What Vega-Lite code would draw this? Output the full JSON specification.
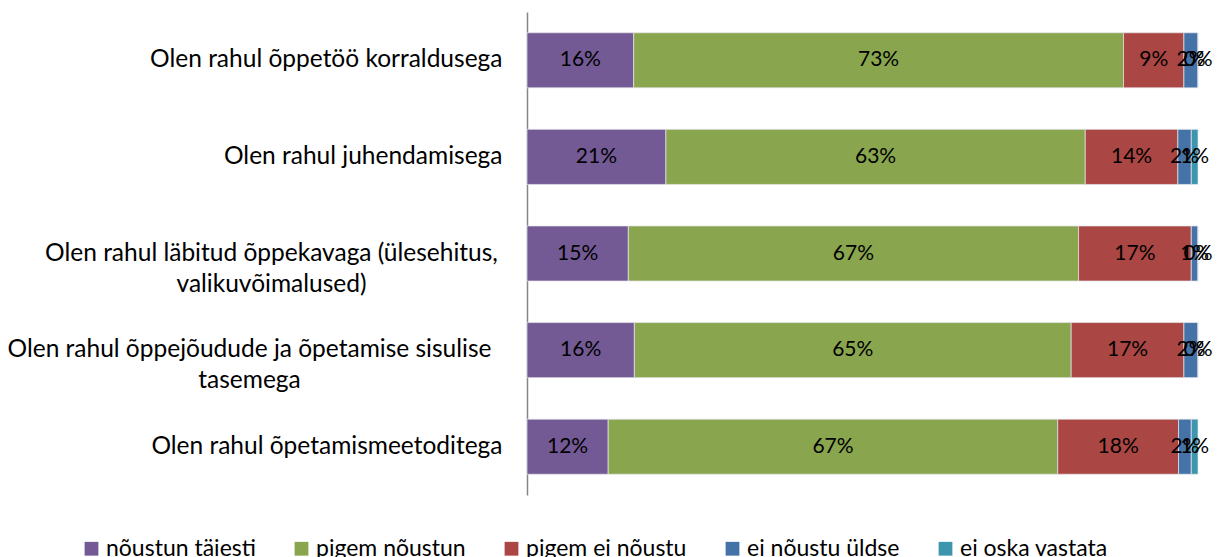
{
  "$schema": "https://vega.github.io/schema/vega-lite/v6.json",
  "width": 671,
  "height": 483,
  "autosize": "none",
  "padding": {"left": 527, "top": 12, "right": 19, "bottom": 62},
  "background": "white",
  "config": {
    "view": {"stroke": null},
    "font": "Lato, sans-serif"
  },
  "data": {
    "values": [
      {"q": "Olen rahul õppetöö korraldusega", "cat": "nõustun täiesti", "k": 1, "v": 0.159},
      {"q": "Olen rahul õppetöö korraldusega", "cat": "pigem nõustun", "k": 2, "v": 0.730},
      {"q": "Olen rahul õppetöö korraldusega", "cat": "pigem ei nõustu", "k": 3, "v": 0.090},
      {"q": "Olen rahul õppetöö korraldusega", "cat": "ei nõustu üldse", "k": 4, "v": 0.021},
      {"q": "Olen rahul õppetöö korraldusega", "cat": "ei oska vastata", "k": 5, "v": 0.0},
      {"q": "Olen rahul juhendamisega", "cat": "nõustun täiesti", "k": 1, "v": 0.207},
      {"q": "Olen rahul juhendamisega", "cat": "pigem nõustun", "k": 2, "v": 0.625},
      {"q": "Olen rahul juhendamisega", "cat": "pigem ei nõustu", "k": 3, "v": 0.138},
      {"q": "Olen rahul juhendamisega", "cat": "ei nõustu üldse", "k": 4, "v": 0.020},
      {"q": "Olen rahul juhendamisega", "cat": "ei oska vastata", "k": 5, "v": 0.010},
      {"q": "Olen rahul läbitud õppekavaga (ülesehitus, valikuvõimalused)", "cat": "nõustun täiesti", "k": 1, "v": 0.151},
      {"q": "Olen rahul läbitud õppekavaga (ülesehitus, valikuvõimalused)", "cat": "pigem nõustun", "k": 2, "v": 0.671},
      {"q": "Olen rahul läbitud õppekavaga (ülesehitus, valikuvõimalused)", "cat": "pigem ei nõustu", "k": 3, "v": 0.168},
      {"q": "Olen rahul läbitud õppekavaga (ülesehitus, valikuvõimalused)", "cat": "ei nõustu üldse", "k": 4, "v": 0.010},
      {"q": "Olen rahul läbitud õppekavaga (ülesehitus, valikuvõimalused)", "cat": "ei oska vastata", "k": 5, "v": 0.0},
      {"q": "Olen rahul õppejõudude ja õpetamise sisulise tasemega", "cat": "nõustun täiesti", "k": 1, "v": 0.160},
      {"q": "Olen rahul õppejõudude ja õpetamise sisulise tasemega", "cat": "pigem nõustun", "k": 2, "v": 0.651},
      {"q": "Olen rahul õppejõudude ja õpetamise sisulise tasemega", "cat": "pigem ei nõustu", "k": 3, "v": 0.168},
      {"q": "Olen rahul õppejõudude ja õpetamise sisulise tasemega", "cat": "ei nõustu üldse", "k": 4, "v": 0.021},
      {"q": "Olen rahul õppejõudude ja õpetamise sisulise tasemega", "cat": "ei oska vastata", "k": 5, "v": 0.0},
      {"q": "Olen rahul õpetamismeetoditega", "cat": "nõustun täiesti", "k": 1, "v": 0.121},
      {"q": "Olen rahul õpetamismeetoditega", "cat": "pigem nõustun", "k": 2, "v": 0.670},
      {"q": "Olen rahul õpetamismeetoditega", "cat": "pigem ei nõustu", "k": 3, "v": 0.180},
      {"q": "Olen rahul õpetamismeetoditega", "cat": "ei nõustu üldse", "k": 4, "v": 0.019},
      {"q": "Olen rahul õpetamismeetoditega", "cat": "ei oska vastata", "k": 5, "v": 0.010}
    ]
  },
  "encoding": {
    "y": {
      "field": "q",
      "type": "nominal",
      "sort": null,
      "scale": {"paddingInner": 0.43, "paddingOuter": 0.215},
      "axis": {
        "title": null,
        "ticks": false,
        "domainColor": "#868686",
        "domainWidth": 1.5,
        "labelFontSize": 24.5,
        "labelColor": "#000000",
        "labelAlign": {
          "condition": {"test": "indexof(datum.value, 'tasemega') >= 0 || indexof(datum.value, 'valikuv') >= 0", "value": "center"},
          "value": "right"
        },
        "labelPadding": {
          "condition": [
            {"test": "indexof(datum.value, 'sisulise tasemega') >= 0", "value": 278},
            {"test": "indexof(datum.value, 'valikuv') >= 0", "value": 256}
          ],
          "value": 25
        },
        "labelLimit": 600,
        "labelLineHeight": 31,
        "labelExpr": "datum.value == 'Olen rahul läbitud õppekavaga (ülesehitus, valikuvõimalused)' ? ['Olen rahul läbitud õppekavaga (ülesehitus,', 'valikuvõimalused)'] : datum.value == 'Olen rahul õppejõudude ja õpetamise sisulise tasemega' ? ['Olen rahul õppejõudude ja õpetamise sisulise', 'tasemega'] : datum.value"
      }
    },
    "x": {
      "field": "v",
      "type": "quantitative",
      "stack": "zero",
      "scale": {"domain": [0, 1], "nice": false},
      "axis": null
    },
    "order": {"field": "k", "type": "quantitative", "sort": "ascending"}
  },
  "layer": [
    {
      "mark": {"type": "bar", "stroke": "#e6e6ee", "strokeWidth": 0.7},
      "encoding": {
        "color": {
          "field": "cat",
          "type": "nominal",
          "scale": {
            "domain": ["nõustun täiesti", "pigem nõustun", "pigem ei nõustu", "ei nõustu üldse", "ei oska vastata"],
            "range": ["#735a95", "#89a54e", "#aa4643", "#4572a7", "#3d96ae"]
          },
          "legend": {
            "title": null,
            "orient": "none",
            "direction": "horizontal",
            "legendX": -447,
            "legendY": 525,
            "symbolType": "square",
            "symbolSize": 190,
            "symbolStrokeWidth": 0,
            "labelFontSize": 23,
            "labelColor": "#000000",
            "labelOffset": 3,
            "columnPadding": 34,
            "labelLimit": 300
          }
        }
      }
    },
    {
      "mark": {"type": "text", "fontSize": 21, "color": "#000000", "baseline": "middle", "align": "center"},
      "encoding": {
        "x": {"field": "v", "type": "quantitative", "stack": "zero", "bandPosition": 0.5},
        "text": {"field": "v", "type": "quantitative", "format": ".0%"}
      }
    }
  ]
}
